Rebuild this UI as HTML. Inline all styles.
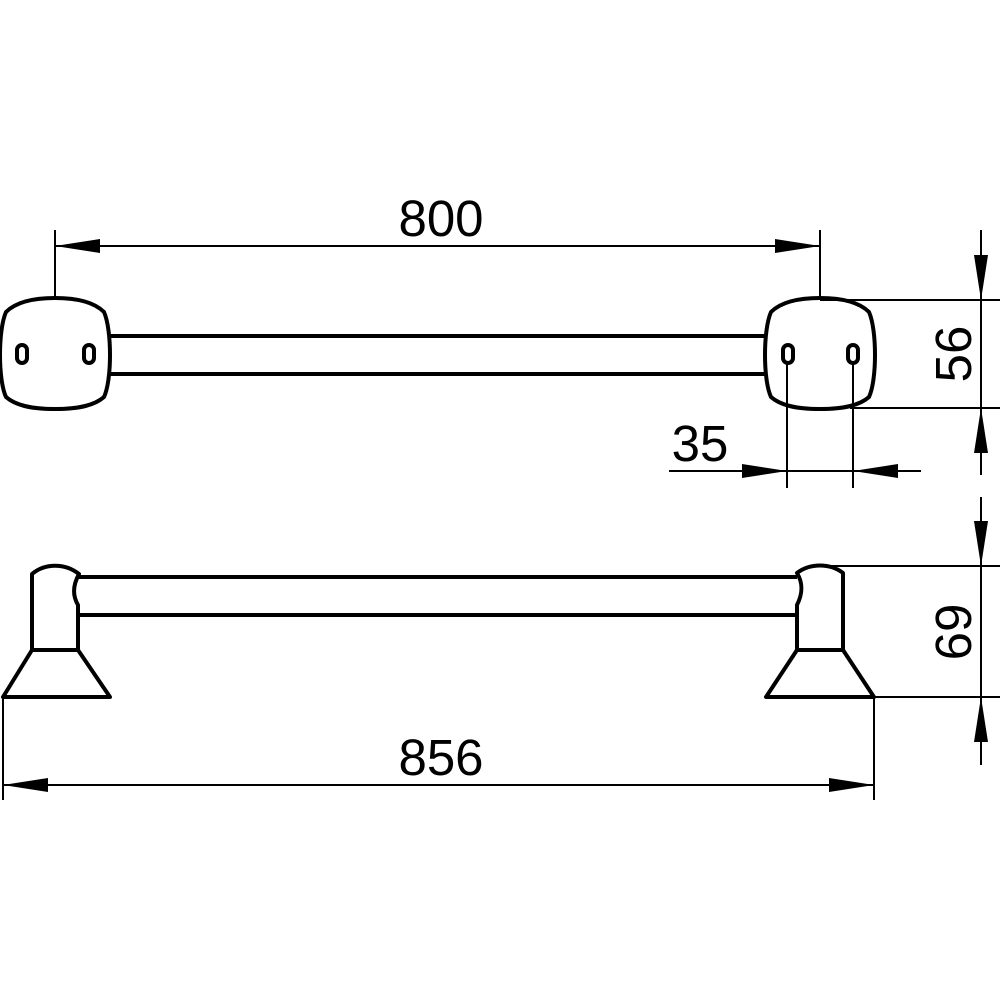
<!DOCTYPE html>
<html><head><style>body{margin:0;background:#fff}svg{display:block}</style></head><body>
<svg width="1000" height="1000" viewBox="0 0 1000 1000" xmlns="http://www.w3.org/2000/svg" font-family="Liberation Sans, sans-serif">
<defs>
<marker id="a" viewBox="0 0 45 14" refX="45" refY="7" markerWidth="45" markerHeight="14" markerUnits="userSpaceOnUse" orient="auto"><path d="M0,0 L45,7 L0,14Z" fill="#000"/></marker>
</defs>
<g fill="none" stroke="#000" stroke-width="4" stroke-linejoin="round">
<path d="M55,298 C80,298 95,303 104,312 C112,330 112,380 104,397 C95,405 80,409 55,409 C30,409 15,405 6,397 C-2,380 -2,330 6,312 C15,303 30,298 55,298Z"/>
<path d="M820,298 C845,298 860,303 869,312 C877,330 877,380 869,397 C860,405 845,409 820,409 C795,409 780,405 771,397 C763,380 763,330 771,312 C780,303 795,298 820,298Z"/>
<line x1="109" y1="336" x2="767" y2="336"/><line x1="109" y1="374" x2="767" y2="374"/>
<rect x="17" y="345" width="10" height="18" rx="5"/><rect x="84" y="345" width="10" height="18" rx="5"/>
<rect x="783" y="345" width="10" height="18" rx="5"/><rect x="848" y="345" width="10" height="18" rx="5"/>
<path d="M32,650 L32,574 C45,563 65,563 79,574 C73,585 72,595 78,605 L78,650 Z"/>
<path d="M32,650 L3,697 L110,697 L78,650"/>
<line x1="78" y1="577" x2="797" y2="577"/><line x1="78" y1="615" x2="797" y2="615"/>
<path d="M843,650 L843,573 C830,563 810,563 797,573 C803,583 803,593 797,605 L797,650 Z"/>
<path d="M797,650 L766,697 L874,697 L843,650"/>
</g>
<g stroke="#000" stroke-width="2" fill="none">
<line x1="55" y1="230" x2="55" y2="297"/><line x1="820" y1="230" x2="820" y2="297"/>
<line x1="55" y1="246" x2="820" y2="246" marker-end="url(#a)"/><line x1="820" y1="246" x2="55" y2="246" marker-end="url(#a)"/>
<line x1="820" y1="300" x2="1000" y2="300"/><line x1="850" y1="408" x2="1000" y2="408"/>
<line x1="981" y1="230" x2="981" y2="300" marker-end="url(#a)"/><line x1="981" y1="300" x2="981" y2="408"/><line x1="981" y1="475" x2="981" y2="408" marker-end="url(#a)"/>
<line x1="787" y1="362" x2="787" y2="488"/><line x1="853" y1="362" x2="853" y2="488"/>
<line x1="669" y1="471" x2="787" y2="471" marker-end="url(#a)"/><line x1="787" y1="471" x2="853" y2="471"/><line x1="921" y1="471" x2="853" y2="471" marker-end="url(#a)"/>
<line x1="830" y1="566" x2="1000" y2="566"/><line x1="874" y1="697" x2="1000" y2="697"/>
<line x1="981" y1="497" x2="981" y2="566" marker-end="url(#a)"/><line x1="981" y1="566" x2="981" y2="697"/><line x1="981" y1="765" x2="981" y2="697" marker-end="url(#a)"/>
<line x1="3" y1="697" x2="3" y2="800"/><line x1="874" y1="697" x2="874" y2="800"/>
<line x1="3" y1="785" x2="874" y2="785" marker-end="url(#a)"/><line x1="874" y1="785" x2="3" y2="785" marker-end="url(#a)"/>
</g>
<g font-size="51" fill="#000" text-anchor="middle">
<text x="441" y="236">800</text>
<text x="441" y="775">856</text>
<text x="700" y="461">35</text>
<text transform="translate(971,354) rotate(-90)">56</text>
<text transform="translate(971,632) rotate(-90)">69</text>
</g>
</svg>
</body></html>
